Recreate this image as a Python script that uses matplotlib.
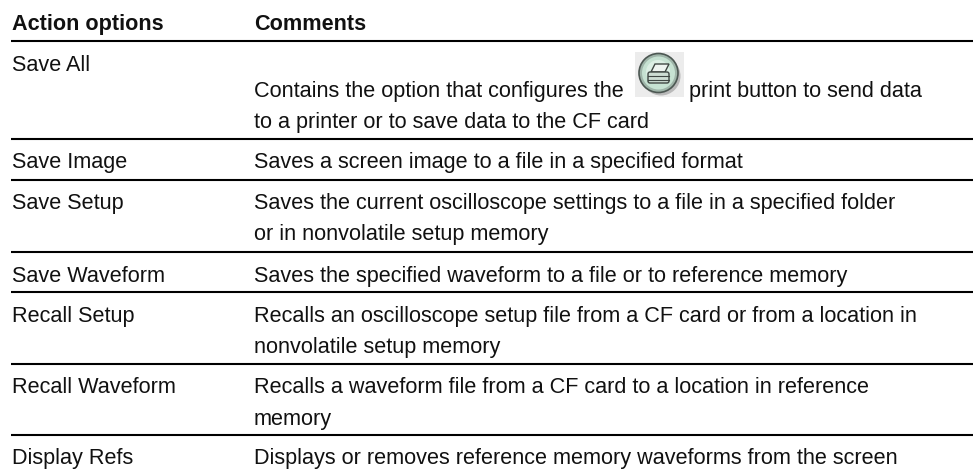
import matplotlib
matplotlib.use('Agg')
import matplotlib.pyplot as plt
from matplotlib.patches import Circle, Rectangle, Polygon, FancyBboxPatch

# Contenido de la tabla
acciones = ['Save All', 'Save Image', 'Save Setup', 'Save Waveform',
            'Recall Setup', 'Recall Waveform', 'Display Refs']
comentarios = [
    ['Contains the option that configures the', 'to a printer or to save data to the CF card'],
    ['Saves a screen image to a file in a specified format'],
    ['Saves the current oscilloscope settings to a file in a specified folder',
     'or in nonvolatile setup memory'],
    ['Saves the specified waveform to a file or to reference memory'],
    ['Recalls an oscilloscope setup file from a CF card or from a location in',
     'nonvolatile setup memory'],
    ['Recalls a waveform file from a CF card to a location in reference',
     'memory'],
    ['Displays or removes reference memory waveforms from the screen'],
]
encabezados = ['Action options', 'Comments']
texto_boton = 'print button to send data'

# Posiciones en pixeles de la imagen original (lineas base del texto)
W, H = 973, 471
y_accion = [71, 168, 209, 282, 322, 393, 464]
y_comentario = [[97, 128], [168], [209, 240], [282], [322, 353], [393, 425], [464]]
y_lineas = [41, 139, 180, 252, 292, 364, 435]
x1, x2 = 12, 254
color_texto = '#111111'

plt.rcParams['font.family'] = ['Liberation Sans', 'DejaVu Sans']
fig = plt.figure(figsize=(W / 100, H / 100), dpi=100)
ax = fig.add_axes([0, 0, 1, 1])
ax.set_xlim(0, W)
ax.set_ylim(H, 0)
ax.axis('off')

fs = 15.6
ax.text(x1, 30, encabezados[0], fontsize=fs, fontweight='bold', va='baseline', color=color_texto)
ax.text(x2, 30, encabezados[1], fontsize=fs, fontweight='bold', va='baseline', color=color_texto)

for y in y_lineas:
    ax.plot([11, W], [y, y], color='black', lw=1.5, solid_capstyle='butt')

for accion, y in zip(acciones, y_accion):
    ax.text(x1, y, accion, fontsize=fs, va='baseline', color=color_texto)
for lineas, ys in zip(comentarios, y_comentario):
    for linea, y in zip(lineas, ys):
        ax.text(x2, y, linea, fontsize=fs, va='baseline', color=color_texto)

ax.text(689, 97, texto_boton, fontsize=fs, va='baseline', color=color_texto)

# Icono de la impresora
ax.add_patch(Rectangle((635, 52), 49, 45, color='#ececec', lw=0))
ax.add_patch(Circle((661, 76), 19.5, color='#b9b9b9', lw=0))
ax.add_patch(Circle((658.5, 73), 19.5, facecolor='#9fb5a9', edgecolor='#4c5752', lw=1.2))
ax.add_patch(Circle((658.5, 73), 16.5, facecolor='#c6e2d2', lw=0))
ax.add_patch(Circle((658, 72), 12, facecolor='#dcefe4', lw=0))

tinta = '#3f4743'
ax.add_patch(Polygon([(651, 72), (655, 64), (669, 64), (665, 72)],
                     facecolor='#eef4f0', edgecolor=tinta, lw=1))
ax.add_patch(FancyBboxPatch((648, 72), 21, 11, boxstyle='round,pad=0,rounding_size=2',
                            facecolor='#cdddd3', edgecolor=tinta, lw=1))
ax.plot([648, 669], [76, 76], color=tinta, lw=0.8)
ax.plot([648, 669], [79.5, 79.5], color=tinta, lw=0.8)

fig.savefig('out.png', dpi=100)
